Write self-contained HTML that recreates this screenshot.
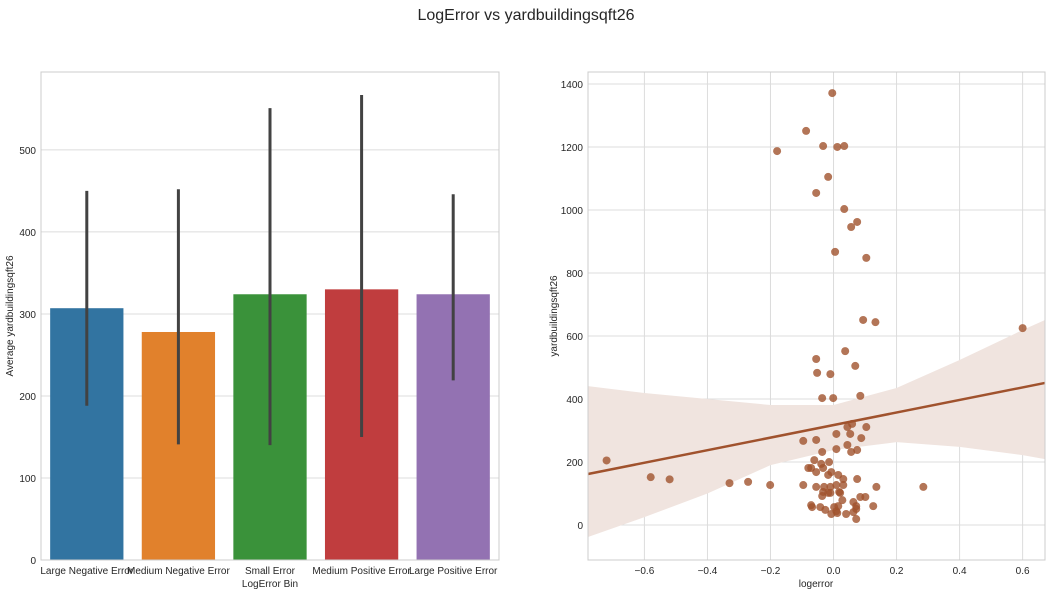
<!DOCTYPE html>
<html><head><meta charset="utf-8"><style>
body{margin:0;background:#fff;font-family:"Liberation Sans",sans-serif;}
svg text{font-family:"Liberation Sans",sans-serif;fill:#262626;}
</style></head><body>
<svg id="c" width="1052" height="593" xmlns="http://www.w3.org/2000/svg">
<text x="526" y="20" text-anchor="middle" font-size="16">LogError vs yardbuildingsqft26</text>
<g id="left"></g>
<g id="right"></g>
</svg>
<script>
const categories=["Large Negative Error","Medium Negative Error","Small Error","Medium Positive Error","Large Positive Error"];
const barValues=[307,278,324,330,324];
const ciLow=[188,141,140,150,219];
const ciHigh=[450,452,551,567,446];
const barColors=["#3274a1","#e1812c","#3a923a","#c03d3e","#9372b2"];
const barTicks=[0,100,200,300,400,500];
const scatterX=[-0.004,-0.087,-0.033,0.012,0.034,-0.179,-0.017,-0.055,0.034,0.075,0.056,0.005,0.104,0.094,0.133,0.600,0.037,-0.055,-0.052,-0.010,0.069,-0.036,-0.001,0.085,0.044,0.059,0.104,0.009,0.053,0.088,-0.096,-0.055,0.044,0.009,0.056,0.075,-0.036,-0.061,-0.014,-0.039,-0.080,-0.071,-0.033,-0.055,-0.007,-0.017,0.015,0.031,0.075,-0.271,-0.201,-0.096,-0.055,-0.030,-0.010,0.009,0.031,0.136,0.285,-0.033,-0.017,0.018,-0.036,-0.010,0.021,0.085,0.101,0.028,0.063,-0.071,-0.068,-0.042,-0.026,0.002,0.015,0.072,0.126,0.009,-0.007,0.012,0.040,0.063,0.072,0.072,-0.72,-0.58,-0.52,-0.33];
const scatterY=[1371,1251,1203,1200,1203,1187,1105,1054,1003,962,946,867,848,651,644,625,552,527,483,479,505,403,403,410,311,321,311,289,289,276,267,270,254,241,232,238,232,206,200,194,181,181,181,168,168,159,159,146,146,137,127,127,121,121,121,127,127,121,121,105,102,105,92,102,102,89,89,79,73,63,57,57,48,57,60,60,60,44,35,38,35,41,51,19,205,152,145,133];
const fitX=[-0.779,0.671];
const fitY=[162,451];
const bandX=[-0.779,-0.6,-0.4,-0.2,0,0.2,0.4,0.6,0.671];
const bandLow=[-38,25,100,190,238,263,248,222,209];
const bandHigh=[441,419,400,381,381,435,524,619,651];
const xTicks=[-0.6,-0.4,-0.2,0.0,0.2,0.4,0.6];
const yTicks=[0,200,400,600,800,1000,1200,1400];
const NS="http://www.w3.org/2000/svg";
function mk(p,t,a){const e=document.createElementNS(NS,t);for(const k in a)e.setAttribute(k,a[k]);p.appendChild(e);return e;}
// left chart
const L=document.getElementById('left');
const lx0=41,lx1=499,ly0=72,ly1=560,lmax=595;
const ly=v=>ly1-(v/lmax)*(ly1-ly0);
const bw=(lx1-lx0)/categories.length;
barTicks.forEach(t=>{
 const g=mk(L,'line',{x1:lx0,x2:lx1,y1:ly(t),y2:ly(t),stroke:'#dcdcdc','stroke-width':1});
 
 
 const tx=mk(L,'text',{x:lx0-5,y:ly(t)+4,'text-anchor':'end','font-size':10});tx.textContent=t;
 
 
});
categories.forEach((c,i)=>{
 const cx=lx0+bw*(i+0.5);
 const r=mk(L,'rect',{x:cx-bw*0.4,y:ly(barValues[i]),width:bw*0.8,height:ly1-ly(barValues[i]),fill:barColors[i]});
 
 
 const e=mk(L,'line',{x1:cx,x2:cx,y1:ly(ciLow[i]),y2:ly(ciHigh[i]),stroke:'#424242','stroke-width':3});
 
 
 const t=mk(L,'text',{x:cx,y:574,'text-anchor':'middle','font-size':10});t.textContent=c;
 
 
});
const lb=mk(L,'rect',{x:lx0,y:ly0,width:lx1-lx0,height:ly1-ly0,fill:'none',stroke:'#cccccc'});


const lxl=mk(L,'text',{x:270,y:587,'text-anchor':'middle','font-size':10});lxl.textContent='LogError Bin';


const lyl=mk(L,'text',{x:0,y:0,'text-anchor':'middle','font-size':10,transform:'translate(13,316) rotate(-90)'});lyl.textContent='Average yardbuildingsqft26';


// right chart
const R=document.getElementById('right');
const rx0=588,rx1=1045,ry0=72,ry1=560;
const xmin=-0.779,xmax=0.671,ymin=-111,ymax=1438;
const sx=v=>rx0+(v-xmin)/(xmax-xmin)*(rx1-rx0);
const sy=v=>ry1-(v-ymin)/(ymax-ymin)*(ry1-ry0);
xTicks.forEach(t=>{
 const g=mk(R,'line',{x1:sx(t),x2:sx(t),y1:ry0,y2:ry1,stroke:'#dcdcdc'});
 
 
 const tx=mk(R,'text',{x:sx(t),y:574,'text-anchor':'middle','font-size':10});tx.textContent=(t<0?'\u2212':'')+Math.abs(t).toFixed(1);
 
 
});
yTicks.forEach(t=>{
 const g=mk(R,'line',{x1:rx0,x2:rx1,y1:sy(t),y2:sy(t),stroke:'#dcdcdc'});
 
 
 const tx=mk(R,'text',{x:rx0-5,y:sy(t)+4,'text-anchor':'end','font-size':10});tx.textContent=t;
 
 
});
let pts=bandX.map((x,i)=>sx(x)+','+sy(bandHigh[i]));
for(let i=bandX.length-1;i>=0;i--)pts.push(sx(bandX[i])+','+sy(bandLow[i]));
const band=mk(R,'polygon',{points:pts.join(' '),fill:'#f0e4df'});


scatterX.forEach((x,i)=>{
 const c=mk(R,'circle',{cx:sx(x),cy:sy(scatterY[i]),r:4,fill:'#a0522d','fill-opacity':0.8});
 
 
});
const rl=mk(R,'line',{x1:sx(fitX[0]),y1:sy(fitY[0]),x2:sx(fitX[1]),y2:sy(fitY[1]),stroke:'#a0522d','stroke-width':2.5});


const rb=mk(R,'rect',{x:rx0,y:ry0,width:rx1-rx0,height:ry1-ry0,fill:'none',stroke:'#cccccc'});


const rxl=mk(R,'text',{x:816,y:587,'text-anchor':'middle','font-size':10});rxl.textContent='logerror';


const ryl=mk(R,'text',{x:0,y:0,'text-anchor':'middle','font-size':10,transform:'translate(557,316) rotate(-90)'});ryl.textContent='yardbuildingsqft26';


</script>
</body></html>
